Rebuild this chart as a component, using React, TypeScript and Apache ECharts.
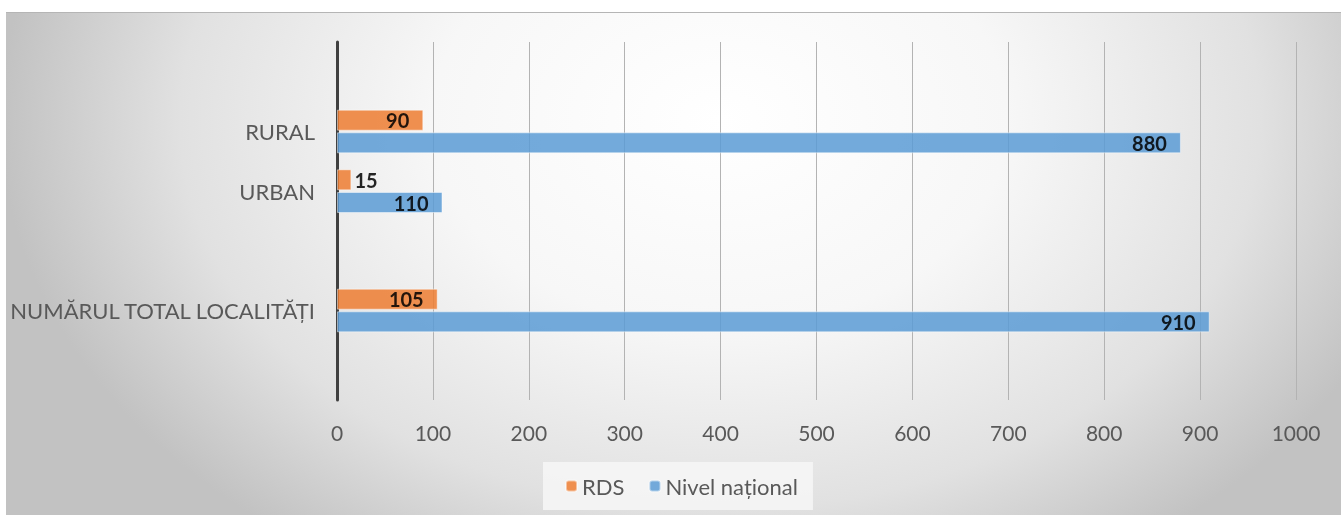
import React, { useEffect, useRef } from "react";
import * as echarts from "echarts";

// Categories top to bottom (blank entries are empty slots on the axis)
const categories = ["", "RURAL", "URBAN", "", "NUMĂRUL TOTAL LOCALITĂȚI", ""];
const rdsValues: (number | null)[] = [null, 90, 15, null, 105, null];
const nationalValues: (number | null)[] = [null, 880, 110, null, 910, null];
const seriesNames = ["RDS", "Nivel național"];
const xTicks = { min: 0, max: 1000, interval: 100 };

const FONT = "Lato, 'Open Sans', sans-serif";

export default function App() {
  const ref = useRef<HTMLDivElement>(null);
  useEffect(() => {
    document.body.style.margin = "0";
    const chart = echarts.init(ref.current!, null, { renderer: "svg" });
    const mkData = (vals: (number | null)[]) =>
      vals.map((v) =>
        v == null
          ? null
          : v < 40
          ? { value: v, label: { position: "right", distance: 3 } }
          : { value: v }
      );
    const labelCfg = {
      show: true,
      position: "insideRight",
      distance: 14,
      color: "#000",
      fontWeight: "bold",
      fontSize: 20,
      fontFamily: FONT,
    };
    chart.setOption({
      animation: false,
      graphic: [
        {
          type: "rect",
          z: -10,
          silent: true,
          shape: { x: 0, y: -400, width: 1440, height: 1040 },
          style: {
            fill: {
              type: "radial",
              x: 0.5,
              y: 0.5,
              r: 0.5,
              colorStops: [
                { offset: 0, color: "#ffffff" },
                { offset: 0.4, color: "#f7f7f7" },
                { offset: 0.75, color: "#e1e1e1" },
                { offset: 1, color: "#c2c2c2" },
              ],
            },
          },
        },
        {
          type: "rect",
          z: -9,
          silent: true,
          shape: { x: 0, y: 0, width: 1341, height: 12 },
          style: { fill: "#ffffff" },
        },
        {
          type: "rect",
          z: -9,
          silent: true,
          shape: { x: 0, y: 0, width: 6, height: 515 },
          style: { fill: "#ffffff" },
        },
        {
          type: "line",
          z: -8,
          silent: true,
          shape: { x1: 6, y1: 12.5, x2: 1341, y2: 12.5 },
          style: { stroke: "#b5b5b5", lineWidth: 1 },
        },
      ],
      grid: { left: 337, right: 45, top: 42, bottom: 115 },
      legend: {
        data: seriesNames,
        left: 543,
        top: 462,
        padding: [13, 15, 13, 22],
        itemGap: 24,
        itemWidth: 11,
        itemHeight: 11,
        backgroundColor: "rgba(245,245,245,0.9)",
        textStyle: { color: "#595959", fontSize: 22, fontFamily: FONT },
      },
      xAxis: {
        type: "value",
        min: xTicks.min,
        max: xTicks.max,
        interval: xTicks.interval,
        axisLine: { show: false },
        axisTick: { show: false },
        splitLine: { show: true, lineStyle: { color: "#b3b3b3", width: 1 } },
        axisLabel: {
          color: "#595959",
          fontSize: 21,
          fontFamily: FONT,
          margin: 22,
          formatter: (v: number) => String(v),
        },
      },
      yAxis: {
        type: "category",
        inverse: true,
        data: categories,
        axisLine: { show: true, lineStyle: { color: "#404040", width: 3 } },
        axisTick: { show: false },
        axisLabel: {
          color: "#595959",
          fontSize: 22,
          fontFamily: FONT,
          margin: 22,
        },
      },
      series: [
        {
          name: seriesNames[0],
          type: "bar",
          data: mkData(rdsValues),
          barWidth: 21,
          barGap: "8%",
          itemStyle: {
            color: "#ED7D31",
            opacity: 0.85,
            borderColor: "rgba(255,255,255,0.55)",
            borderWidth: 1,
          },
          label: labelCfg,
        },
        {
          name: seriesNames[1],
          type: "bar",
          data: mkData(nationalValues),
          barWidth: 21,
          barGap: "8%",
          itemStyle: {
            color: "#5B9BD5",
            opacity: 0.85,
            borderColor: "rgba(255,255,255,0.55)",
            borderWidth: 1,
          },
          label: labelCfg,
        },
      ],
    });
    return () => chart.dispose();
  }, []);
  return (
    <div
      ref={ref}
      style={{ position: "fixed", left: 0, top: 0, width: 1341, height: 515 }}
    />
  );
}
